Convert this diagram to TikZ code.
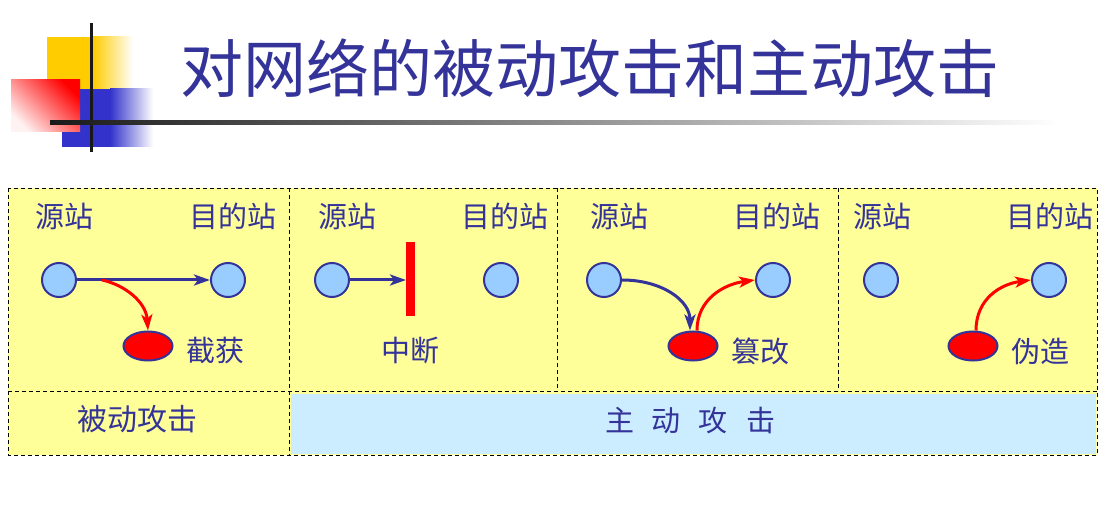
\documentclass[tikz,border=0pt]{standalone}
\usepackage{fontspec}
\newfontfamily\cjk{Noto Sans CJK SC}
\usetikzlibrary{arrows.meta, shapes.geometric}

\definecolor{titleblue}{HTML}{333399}
\definecolor{cellyellow}{HTML}{FFFF99}
\definecolor{cellblue}{HTML}{CCECFF}
\definecolor{stationblue}{HTML}{99CCFF}
\definecolor{logoyellow}{HTML}{FFCC00}
\definecolor{logoblue}{HTML}{3333CC}

\begin{document}
\begin{tikzpicture}[x=1pt, y=-1pt, >={Stealth[length=16pt, width=11pt, inset=4pt]},
    station/.style={draw=titleblue, line width=2pt, circle, fill=stationblue, minimum size=34pt, inner sep=0pt},
    intruder/.style={draw=titleblue, line width=2pt, ellipse, fill=red, minimum width=49pt, minimum height=29pt, inner sep=0pt},
    lbl/.style={text=titleblue, font=\cjk\fontsize{29}{31}\selectfont, inner sep=0pt},
    flow/.style={->, draw=titleblue, line width=3pt},
    attack/.style={->, draw=red, line width=3pt},
    cell/.style={draw=black, line width=0.8pt, dash pattern=on 4pt off 3pt}]

            \useasboundingbox (0,0) rectangle (1117,513);

            % Draw the logo in the corner
            \fill[logoyellow] (47,37) rectangle (93,89);
            \shade[left color=logoyellow, right color=white] (93,37) rectangle (133,89);
            \fill[logoblue] (62,89) rectangle (110,147);
            \shade[left color=logoblue, right color=white] (110,89) rectangle (153,147);
            \shade[left color=red!5, right color=red, shading angle=135] (11,80) rectangle (80,132);
            \fill[black!90] (89.5,23) rectangle (92.5,152);
            \shade[left color=black!90, right color=white] (50,121) rectangle (1060,125);

            % Draw the title
            \node[text=titleblue, font=\cjk\fontsize{63}{65}\selectfont, inner sep=0pt] (title) at (590,68) {对网络的被动攻击和主动攻击};

            % Draw the table
            \fill[cellyellow] (8,188) rectangle (1097,455);
            \fill[cellblue] (291,394) rectangle (1096,454);
            \draw[cell] (8,188) rectangle (1097,455);
            \draw[cell] (8,391) -- (1097,391);
            \draw[cell] (289,188) -- (289,455);
            \draw[cell] (557,188) -- (557,391);
            \draw[cell] (838,188) -- (838,391);

            % Column headers
            \node[lbl] (s1) at (64,216) {源站};
            \node[lbl] (d1) at (233,216) {目的站};
            \node[lbl] (s2) at (347,216) {源站};
            \node[lbl] (d2) at (505,216) {目的站};
            \node[lbl] (s3) at (619,216) {源站};
            \node[lbl] (d3) at (777,216) {目的站};
            \node[lbl] (s4) at (882,216) {源站};
            \node[lbl] (d4) at (1050,216) {目的站};

            % Draw the stations
            \node[station] (src1) at (59,280) {};
            \node[station] (dst1) at (228,280) {};
            \node[station] (src2) at (332,280) {};
            \node[station] (dst2) at (501,280) {};
            \node[station] (src3) at (604,280) {};
            \node[station] (dst3) at (773,280) {};
            \node[station] (src4) at (881,280) {};
            \node[station] (dst4) at (1049,280) {};

            % Draw the intruders
            \node[intruder] (eve1) at (148,346) {};
            \node[intruder] (eve3) at (693,346) {};
            \node[intruder] (eve4) at (973,346) {};
            \fill[red] (406,242) rectangle (415,316);
            \coordinate (cut) at (406,280);

            % Attack names
            \node[lbl] (n1) at (215,351) {截获};
            \node[lbl] (n2) at (410,351) {中断};
            \node[lbl] (n3) at (760,351) {篡改};
            \node[lbl] (n4) at (1040,351) {伪造};

            % Bottom row
            \node[lbl, font=\cjk\fontsize{30}{32}\selectfont] (passive) at (137,419) {被动攻击};
            \node[lbl] (active) at (690,420) {主\hspace{18pt}动\hspace{18pt}攻\hspace{18pt}击};

            % Interception
            \draw[flow] (src1) -- (dst1);
            \coordinate (tap1) at (102,280);
            \draw[attack] (tap1) .. controls (125,285) and (146,302) .. (eve1.north);

            % Interruption
            \draw[flow] (src2) -- (cut);

            % Modification
            \draw[flow] (src3.east) .. controls +(40,0) and +(0,-30) .. ([xshift=-3pt]eve3.north);
            \draw[attack] ([xshift=4pt]eve3.north) .. controls +(0,-32) and +(-30,4) .. (dst3.west);

            % Fabrication
            \draw[attack] ([xshift=3pt]eve4.north) .. controls +(0,-32) and +(-30,4) .. (dst4.west);

\end{tikzpicture}
\end{document}
